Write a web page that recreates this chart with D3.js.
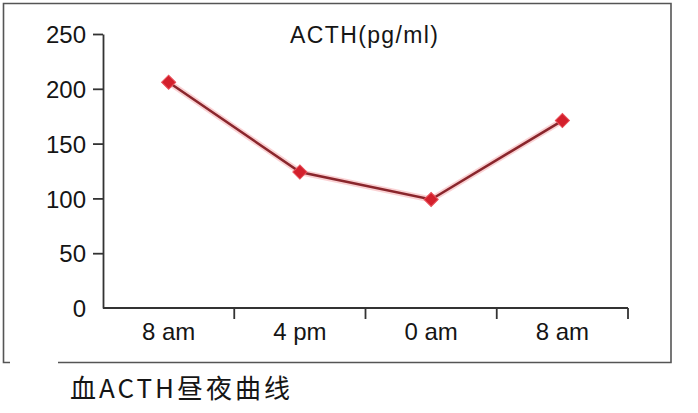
<!DOCTYPE html>
<html><head><meta charset="utf-8">
<script src="https://cdn.jsdelivr.net/npm/d3@7"></script>
<style>body{margin:0;background:#fff}svg{display:block}</style>
</head><body><svg id="c" width="698" height="413"></svg>
<script>
const categories = ["8 am", "4 pm", "0 am", "8 am"];
const acthValues = [206, 124, 99, 171];
const yTicks = [0, 50, 100, 150, 200, 250];
const chartTitle = "ACTH(pg/ml)";
const caption = "血ACTH昼夜曲线";

const svg = d3.select("#c");
const font = "'Liberation Sans', Arial, Helvetica, sans-serif";
const x = d3.scaleBand().domain(d3.range(categories.length)).range([103, 628]).padding(0);
const y = d3.scaleLinear().domain([0, 250]).range([308, 34]);

// outer frame
const frame = svg.append("g").attr("stroke", "#555").attr("stroke-width", 1.6).attr("fill", "none");
frame.append("path").attr("d", "M58,362.5 L671,362.5 L671,3.5 L3.5,3.5 L3.5,362.5 L10,362.5");

// y axis
const yAxis = d3.axisLeft(y).tickValues(yTicks).tickSize(10).tickSizeOuter(0).tickPadding(7);
const gy = svg.append("g").attr("transform", "translate(103,0)").call(yAxis);
gy.select(".domain").attr("stroke", "#333").attr("stroke-width", 1.8);
gy.selectAll(".tick line").attr("stroke", "#333").attr("stroke-width", 1.8)
  .attr("display", d => d === 0 ? "none" : null);
gy.selectAll(".tick text").attr("font-family", font).attr("font-size", 24).attr("fill", "#151515")
  .attr("dy", "0.36em");

// x axis
const xg = svg.append("g");
xg.append("line").attr("x1", x.range()[0]).attr("x2", x.range()[1])
  .attr("y1", y(0)).attr("y2", y(0)).attr("stroke", "#333").attr("stroke-width", 1.8);
xg.selectAll(".xt").data(d3.range(categories.length)).join("line")
  .attr("x1", d => x(d) + x.bandwidth()).attr("x2", d => x(d) + x.bandwidth())
  .attr("y1", y(0)).attr("y2", y(0) + 11).attr("stroke", "#333").attr("stroke-width", 1.8);
xg.selectAll(".xl").data(categories).join("text")
  .attr("x", (d, i) => x(i) + x.bandwidth() / 2).attr("y", 340)
  .attr("text-anchor", "middle").attr("font-family", font).attr("font-size", 24).attr("fill", "#151515")
  .text(d => d);

// line with glow
const line = d3.line().x((d, i) => x(i) + x.bandwidth() / 2).y(d => y(d));
svg.append("path").datum(acthValues).attr("d", line).attr("fill", "none")
  .attr("stroke", "#f07a80").attr("stroke-opacity", 0.35).attr("stroke-width", 6);
svg.append("path").datum(acthValues).attr("d", line).attr("fill", "none")
  .attr("stroke", "#8a262c").attr("stroke-width", 2.5);

// diamond markers
const sym = d3.symbol().type(d3.symbolSquare).size(100);
svg.selectAll(".pt").data(acthValues).join("path")
  .attr("d", sym)
  .attr("transform", (d, i) => `translate(${x(i) + x.bandwidth() / 2},${y(d)}) rotate(45)`)
  .attr("fill", "#d3202c").attr("stroke", "#e8505a").attr("stroke-width", 1);

// title
svg.append("text").attr("x", 290).attr("y", 43).attr("font-family", font).attr("font-size", 23)
  .attr("fill", "#151515").attr("textLength", 148).attr("lengthAdjust", "spacing").text(chartTitle);

// caption
svg.append("text").attr("x", 70).attr("y", 398)
  .attr("font-family", "'Noto Sans CJK SC', 'Noto Sans', sans-serif").attr("font-size", 26)
  .attr("fill", "#151515").attr("textLength", 220).attr("lengthAdjust", "spacing").text(caption);
</script></body></html>
